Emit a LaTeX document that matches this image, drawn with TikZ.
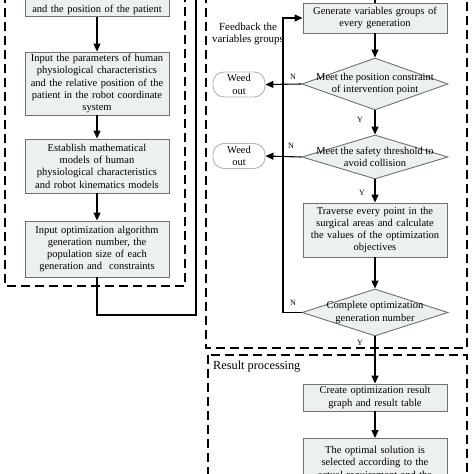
\documentclass[tikz,border=0pt]{standalone}
\usepackage{fontspec}
\setmainfont{Liberation Serif}
\usetikzlibrary{shapes.geometric,arrows.meta}

\definecolor{boxfill}{HTML}{EDF0F0}
\definecolor{boxline}{HTML}{707070}
\definecolor{weedline}{HTML}{B4B4B4}

\tikzset{
  stepbox/.style={draw=boxline, fill=boxfill, line width=0.9pt, align=center,
    text width=140pt, minimum width=142pt, inner xsep=2pt, inner ysep=2pt,
    font=\fontsize{10.5}{12.3}\selectfont},
  decision/.style={draw=boxline, fill=boxfill, line width=0.9pt, shape=diamond,
    inner sep=0pt, minimum width=146pt},
  dectext/.style={align=center, font=\fontsize{10.5}{12.3}\selectfont},
  weed/.style={draw=weedline, fill=white, line width=0.9pt, rounded corners=11pt,
    minimum width=52pt, minimum height=25pt, inner sep=0pt, align=center,
    font=\fontsize{10.5}{12.3}\selectfont},
  flow/.style={line width=1.1pt, -{Triangle[length=8pt,width=7pt]}},
  plain/.style={line width=1.1pt},
  region/.style={line width=1.3pt, dash pattern=on 9pt off 5pt},
  yn/.style={font=\fontsize{8}{9}\selectfont}
}

\begin{document}
\begin{tikzpicture}[x=1pt,y=-1pt]

% Fix the page to the size of the reference
\useasboundingbox (0,0) rectangle (474,474);

% Dashed regions
\draw[region] (5,-20) rectangle (185,286);
\draw[region] (206,-20) rectangle (467,348);
\draw[region] (208,355) rectangle (467,494);

% Left column: input steps
\node[stepbox, anchor=south] (pos) at (97,17) {\mbox{}\\and the position of the patient};
\node[stepbox, minimum height=63pt] (human) at (97,83.5) {Input the parameters of human\\physiological characteristics\\and the relative position of the\\patient in the robot coordinate\\system};
\node[stepbox, minimum height=54pt] (models) at (97,166) {Establish mathematical\\models of human\\physiological characteristics\\and robot kinematics models};
\node[stepbox, minimum height=56pt] (algo) at (97,249) {Input optimization algorithm\\generation number, the\\population size of each\\generation and\ \ constraints};

% Right column: optimization loop
\node[stepbox, minimum height=30pt] (gen) at (375,18) {Generate variables groups of\\every generation};
\node[decision, minimum height=52pt] (cons) at (375,84) {};
\node[dectext] (const) at (cons) {Meet the position constraint\\of intervention point};
\node[decision, minimum height=44pt] (safe) at (375,157) {};
\node[dectext] (safet) at (safe) {Meet the safety threshold to\\avoid collision};
\node[stepbox, minimum height=54pt] (trav) at (375,230) {Traverse every point in the\\surgical areas and calculate\\the values of the optimization\\objectives};
\node[decision, minimum height=47pt] (done) at (375,312.5) {};
\node[dectext] (donet) at (done) {Complete optimization\\generation number};

% Weed out terminals
\node[weed] (weedA) at (239,84.5) {Weed\\out};
\node[weed] (weedB) at (239,156) {Weed\\out};

% Result processing
\node[stepbox, minimum height=27pt] (graph) at (375,397.5) {Create optimization result\\graph and result table};
\node[stepbox, anchor=north, inner ysep=1pt, minimum height=60pt] (best) at (375,438) {The optimal solution is\\selected according to the\\actual requirement and the\\\mbox{}};
\node[anchor=west, inner xsep=0pt, font=\fontsize{12.3}{14}\selectfont] (result) at (213,367) {Result processing};

% Arrows of the left column
\draw[flow] (pos) -- (human);
\draw[flow] (human) -- (models);
\draw[flow] (models) -- (algo);

% Link from the left column to the loop (runs out over the top)
\coordinate (turn) at (196,315);
\coordinate (upL) at (196,-20);
\coordinate (upR) at (375,-20);
\draw[plain] (algo.south) |- (turn) -- (upL);
\draw[plain] (upR) -- (gen.north);

% Arrows of the loop
\draw[flow] (gen) -- (cons);
\draw[flow] (cons) -- (safe);
\draw[flow] (safe) -- (trav);
\draw[flow] (trav) -- (done);
\draw[flow] (cons.west) -- (weedA.east);
\draw[flow] (safe.west) -- (weedB.east);

% Feedback line
\coordinate (back) at (283,312.5);
\draw[flow] (done.west) -- (back) |- (gen.west);
\node[align=center, font=\fontsize{10.9}{12.5}\selectfont] (feed) at (248,34) {Feedback the\\variables groups};

% Exit of the loop
\draw[flow] (done.south) -- (graph.north);
\draw[flow] (graph) -- (best);

% Y and N labels
\node[yn] (n1) at (293,77) {N};
\node[yn] (n2) at (291,146) {N};
\node[yn] (n3) at (293,303) {N};
\node[yn] (y1) at (360,120) {Y};
\node[yn] (y2) at (362,193) {Y};
\node[yn] (y3) at (360,343) {Y};

\end{tikzpicture}
\end{document}
